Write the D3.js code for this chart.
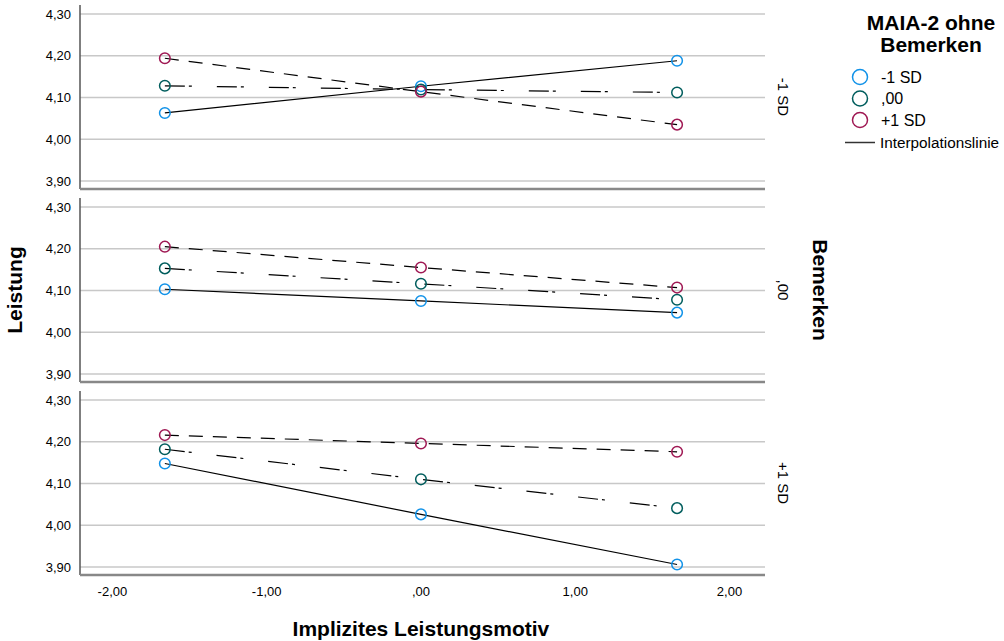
<!DOCTYPE html>
<html>
<head>
<meta charset="utf-8">
<script src="https://cdn.jsdelivr.net/npm/d3@7"></script>
<style>
  body { margin: 0; background: #fff; }
  #chart { width: 1004px; height: 641px; }
  text { font-family: "Liberation Sans", Arial, sans-serif; fill: #000; }
</style>
</head>
<body>
<div id="chart"></div>
<script>
// Data: x positions of the three predictor levels (Implizites Leistungsmotiv)
const xValues = [-1.66, 0, 1.66];

// Panels = Bemerken levels, series = MAIA-2 ohne Bemerken levels
const panelLabels = ['-1 SD', ',00', '+1 SD'];
const seriesLabels = ['-1 SD', ',00', '+1 SD'];

// One row per panel, one value per x position
const seriesLow = [
    [4.063, 4.127, 4.188],
    [4.103, 4.075, 4.047],
    [4.148, 4.026, 3.906]
];
const seriesMid = [
    [4.128, 4.119, 4.112],
    [4.153, 4.116, 4.078],
    [4.182, 4.110, 4.041]
];
const seriesHigh = [
    [4.194, 4.114, 4.035],
    [4.205, 4.155, 4.107],
    [4.216, 4.196, 4.176]
];

// Tick values and labels
const yTicks = [3.9, 4.0, 4.1, 4.2, 4.3];
const yTickLabels = ['3,90', '4,00', '4,10', '4,20', '4,30'];
const xTicks = [-2, -1, 0, 1, 2];
const xTickLabels = ['-2,00', '-1,00', ',00', '1,00', '2,00'];

const seriesColors = ['#1192e8', '#005d5d', '#9f1853'];
const seriesDash = [null, '20,4,3,25', '14,10'];
const allSeries = [seriesLow, seriesMid, seriesHigh];

// Layout
const plotLeft = 80, plotRight = 765;
const panelTop = 5, panelH = 184, panelStep = 193;

const svg = d3.select('#chart')
    .append('svg')
    .attr('width', 1004)
    .attr('height', 641);

const xScale = d3.scaleLinear()
    .domain([-2.21, 2.23])
    .range([plotLeft, plotRight]);

const line = d3.line()
    .x((d, i) => xScale(xValues[i]))
    .y(d => d);

panelLabels.forEach((label, p) => {
    const top = panelTop + p * panelStep;
    const yScale = d3.scaleLinear()
        .domain([3.8808, 4.3216])
        .range([top + panelH, top]);

    const g = svg.append('g').attr('class', 'panel');

    // gridlines
    g.selectAll('.grid')
        .data(yTicks)
        .enter()
        .append('line')
        .attr('x1', plotLeft)
        .attr('x2', plotRight)
        .attr('y1', d => yScale(d))
        .attr('y2', d => yScale(d))
        .attr('stroke', '#c8c8c8')
        .attr('stroke-width', 1.5);

    // y tick labels
    g.selectAll('.ylab')
        .data(yTicks)
        .enter()
        .append('text')
        .attr('x', 71)
        .attr('y', d => yScale(d))
        .attr('dy', '0.35em')
        .attr('text-anchor', 'end')
        .style('font-size', '13px')
        .text((d, i) => yTickLabels[i]);

    // left axis and bottom border
    g.append('line')
        .attr('x1', plotLeft).attr('x2', plotLeft)
        .attr('y1', top).attr('y2', top + panelH)
        .attr('stroke', '#555')
        .attr('stroke-width', 1.5);
    g.append('line')
        .attr('x1', plotLeft).attr('x2', plotRight)
        .attr('y1', top + panelH).attr('y2', top + panelH)
        .attr('stroke', '#888')
        .attr('stroke-width', 2.5);

    // interpolation lines
    allSeries.forEach((s, k) => {
        g.append('path')
            .datum(s[p].map(v => yScale(v)))
            .attr('d', line)
            .attr('fill', 'none')
            .attr('stroke', '#000')
            .attr('stroke-width', 1.2)
            .attr('stroke-dasharray', seriesDash[k]);
    });

    // markers
    allSeries.forEach((s, k) => {
        g.selectAll('.pt' + k)
            .data(s[p])
            .enter()
            .append('circle')
            .attr('cx', (d, i) => xScale(xValues[i]))
            .attr('cy', d => yScale(d))
            .attr('r', 5.3)
            .attr('fill', 'none')
            .attr('stroke', seriesColors[k])
            .attr('stroke-width', 1.5);
    });

    // panel label on the right
    const cy = top + panelH / 2;
    g.append('text')
        .attr('transform', `translate(778,${cy}) rotate(90)`)
        .attr('text-anchor', 'middle')
        .style('font-size', '15px')
        .text(label);
});

// x tick labels under the bottom panel
svg.selectAll('.xlab')
    .data(xTicks)
    .enter()
    .append('text')
    .attr('x', d => xScale(d))
    .attr('y', 596)
    .attr('text-anchor', 'middle')
    .style('font-size', '13px')
    .text((d, i) => xTickLabels[i]);

// axis titles
svg.append('text')
    .attr('x', xScale(0))
    .attr('y', 636)
    .attr('text-anchor', 'middle')
    .style('font-size', '21px')
    .style('font-weight', 'bold')
    .text('Implizites Leistungsmotiv');

svg.append('text')
    .attr('transform', 'translate(22,290) rotate(-90)')
    .attr('text-anchor', 'middle')
    .style('font-size', '21px')
    .style('font-weight', 'bold')
    .text('Leistung');

svg.append('text')
    .attr('transform', 'translate(813,290) rotate(90)')
    .attr('text-anchor', 'middle')
    .style('font-size', '21px')
    .style('font-weight', 'bold')
    .text('Bemerken');

// Legend
const legend = svg.append('g').attr('class', 'legend');
legend.append('text')
    .attr('x', 931).attr('y', 30)
    .attr('text-anchor', 'middle')
    .style('font-size', '21px')
    .style('font-weight', 'bold')
    .text('MAIA-2 ohne');
legend.append('text')
    .attr('x', 931).attr('y', 52)
    .attr('text-anchor', 'middle')
    .style('font-size', '21px')
    .style('font-weight', 'bold')
    .text('Bemerken');

seriesLabels.forEach((lab, k) => {
    const y = 77 + k * 21.5;
    legend.append('circle')
        .attr('cx', 860).attr('cy', y)
        .attr('r', 7.5)
        .attr('fill', 'none')
        .attr('stroke', seriesColors[k])
        .attr('stroke-width', 1.5);
    legend.append('text')
        .attr('x', 881).attr('y', y)
        .attr('dy', '0.35em')
        .style('font-size', '16px')
        .text(lab);
});
legend.append('line')
    .attr('x1', 845).attr('x2', 875)
    .attr('y1', 142.5).attr('y2', 142.5)
    .attr('stroke', '#333')
    .attr('stroke-width', 1.5);
legend.append('text')
    .attr('x', 880).attr('y', 142.5)
    .attr('dy', '0.35em')
    .style('font-size', '15.3px')
    .text('Interpolationslinie');
</script>
</body>
</html>
